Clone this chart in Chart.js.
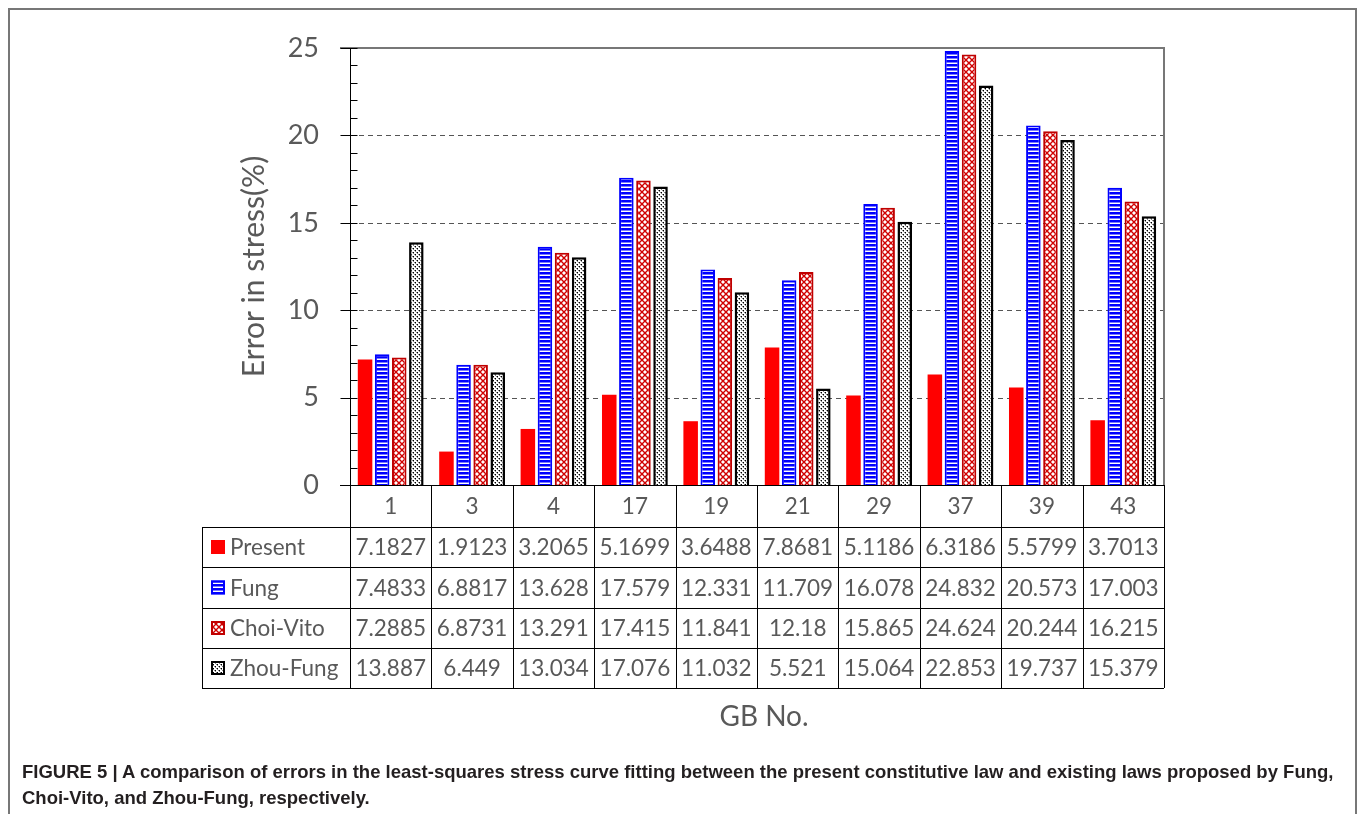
<!DOCTYPE html>
<html>
<head>
<meta charset="utf-8">
<script src="https://cdn.jsdelivr.net/npm/chart.js@4"></script>
<style>
  body { margin: 0; background: #fff; }
  #wrap { position: relative; width: 1357px; height: 814px; overflow: hidden; }
  #chart { position: absolute; left: 0; top: 0; }
  #frame { position: absolute; left: 8px; top: 8px; width: 1345px; height: 820px;
           border: 2px solid #777; border-bottom: none; pointer-events: none; }
  #caption { position: absolute; left: 22px; top: 759px; width: 1330px;
             font: bold 18.5px "Liberation Sans", Arial, sans-serif; line-height: 26px; color: #231f20; }
</style>
</head>
<body>
<div id="wrap">
  <canvas id="chart" width="1357" height="814"></canvas>
  <div id="frame"></div>
  <div id="caption">FIGURE 5 | A comparison of errors in the least-squares stress curve fitting between the present constitutive law and existing laws proposed by Fung,<br>Choi-Vito, and Zhou-Fung, respectively.</div>
</div>
<script>
// data
const categories = ["1", "3", "4", "17", "19", "21", "29", "37", "39", "43"];
const present = [7.1827, 1.9123, 3.2065, 5.1699, 3.6488, 7.8681, 5.1186, 6.3186, 5.5799, 3.7013];
const fung = [7.4833, 6.8817, 13.628, 17.579, 12.331, 11.709, 16.078, 24.832, 20.573, 17.003];
const choiVito = [7.2885, 6.8731, 13.291, 17.415, 11.841, 12.18, 15.865, 24.624, 20.244, 16.215];
const zhouFung = [13.887, 6.449, 13.034, 17.076, 11.032, 5.521, 15.064, 22.853, 19.737, 15.379];
const yTicks = [0, 5, 10, 15, 20, 25];

const FONT = "Lato, 'Open Sans', sans-serif";
const GREY = "#595959";

// fill patterns
function makePattern(size, draw) {
  const c = document.createElement("canvas");
  c.width = size[0];
  c.height = size[1];
  const g = c.getContext("2d");
  g.fillStyle = "#fff";
  g.fillRect(0, 0, c.width, c.height);
  draw(g);
  return document.getElementById("chart").getContext("2d").createPattern(c, "repeat");
}

const fungPattern = makePattern([4, 4], (g) => {
  g.fillStyle = "#0000ff";
  g.fillRect(0, 0, 4, 2);
  g.fillStyle = "#7a7aff";
  g.fillRect(0, 2, 4, 1);
});

const choiPattern = makePattern([6, 6], (g) => {
  g.strokeStyle = "#d00000";
  g.lineWidth = 1.4;
  g.beginPath();
  g.moveTo(-1, -1); g.lineTo(7, 7);
  g.moveTo(7, -1); g.lineTo(-1, 7);
  g.stroke();
});

const zhouPattern = makePattern([4, 4], (g) => {
  g.fillStyle = "#000";
  g.fillRect(1, 0, 1, 1);
  g.fillRect(3, 2, 1, 1);
  g.fillStyle = "#888";
  g.fillRect(1, 1, 1, 1);
  g.fillRect(3, 3, 1, 1);
  g.fillRect(0, 0, 1, 1);
  g.fillRect(2, 2, 1, 1);
});

const series = [
  { label: "Present", data: present, fill: "#ff0000", border: "#ff0000", bw: 0 },
  { label: "Fung", data: fung, fill: fungPattern, border: "#0000ff", bw: 2 },
  { label: "Choi-Vito", data: choiVito, fill: choiPattern, border: "#c00000", bw: 2 },
  { label: "Zhou-Fung", data: zhouFung, fill: zhouPattern, border: "#000000", bw: 2.5 },
];

// gridlines, ticks and frame of the plot
const plotFrame = {
  id: "plotFrame",
  beforeDatasetsDraw(chart) {
    const { ctx, chartArea: a, scales: { y } } = chart;
    ctx.save();
    ctx.strokeStyle = "#555";
    ctx.lineWidth = 1;
    ctx.setLineDash([5, 4]);
    [5, 10, 15, 20].forEach((v) => {
      const py = Math.round(y.getPixelForValue(v)) + 0.5;
      ctx.beginPath();
      ctx.moveTo(a.left, py);
      ctx.lineTo(a.right, py);
      ctx.stroke();
    });
    ctx.setLineDash([]);
    ctx.strokeStyle = "#777";
    ctx.lineWidth = 2;
    ctx.beginPath();
    ctx.moveTo(a.left - 10, a.top);
    ctx.lineTo(a.right, a.top);
    ctx.lineTo(a.right, a.bottom);
    ctx.stroke();
    ctx.restore();
  },
  afterDatasetsDraw(chart) {
    const { ctx, chartArea: a, scales: { x, y } } = chart;
    ctx.save();
    ctx.strokeStyle = "#000";
    ctx.lineWidth = 1;
    const ax = Math.round(a.left) + 0.5;
    ctx.beginPath();
    ctx.moveTo(ax, a.top);
    ctx.lineTo(ax, a.bottom);
    for (let v = 0; v <= 25; v++) {
      const py = Math.round(y.getPixelForValue(v)) + 0.5;
      ctx.moveTo(v % 5 === 0 ? ax - 10 : ax, py);
      ctx.lineTo(ax + 7, py);
    }
    ctx.stroke();

    // data table under the axis
    const rowTops = [a.bottom, a.bottom + 42, a.bottom + 82, a.bottom + 123, a.bottom + 163, a.bottom + 203];
    const tableLeft = 202;
    const step = (a.right - a.left) / categories.length;
    ctx.beginPath();
    rowTops.forEach((ty, i) => {
      const py = Math.round(ty) + 0.5;
      ctx.moveTo(i === 0 ? a.left - 10 : tableLeft, py);
      ctx.lineTo(a.right, py);
    });
    for (let i = 0; i <= categories.length; i++) {
      const px = Math.round(a.left + i * step) + 0.5;
      ctx.moveTo(px, rowTops[0]);
      ctx.lineTo(px, rowTops[5]);
    }
    ctx.moveTo(tableLeft + 0.5, rowTops[1]);
    ctx.lineTo(tableLeft + 0.5, rowTops[5]);
    ctx.stroke();

    ctx.fillStyle = GREY;
    ctx.font = "22.5px " + FONT;
    ctx.textAlign = "center";
    ctx.textBaseline = "middle";
    categories.forEach((c, i) => {
      ctx.fillText(c, x.getPixelForValue(i), (rowTops[0] + rowTops[1]) / 2 + 1);
    });
    series.forEach((s, r) => {
      const cy = (rowTops[r + 1] + rowTops[r + 2]) / 2 + 1;
      ctx.textAlign = "center";
      ctx.fillStyle = GREY;
      s.data.forEach((v, i) => {
        ctx.fillText(String(v), x.getPixelForValue(i), cy);
      });
      // legend key
      ctx.fillStyle = s.fill;
      ctx.fillRect(211, cy - 8, 14, 14);
      if (s.bw) {
        ctx.strokeStyle = s.border;
        ctx.lineWidth = 2;
        ctx.strokeRect(212, cy - 7, 12, 12);
      }
      ctx.textAlign = "left";
      ctx.fillStyle = GREY;
      ctx.fillText(s.label, 230, cy);
    });

    ctx.font = "28px " + FONT;
    ctx.textAlign = "center";
    ctx.fillText("GB No.", 764, 717);
    ctx.restore();
  },
};

new Chart(document.getElementById("chart"), {
  type: "bar",
  data: {
    labels: categories,
    datasets: series.map((s) => ({
      label: s.label,
      data: s.data,
      backgroundColor: s.fill,
      borderColor: s.border,
      borderWidth: s.bw,
      borderSkipped: "bottom",
      categoryPercentage: 0.84,
      barPercentage: 0.85,
    })),
  },
  options: {
    responsive: false,
    animation: false,
    layout: { padding: { left: 236, top: 48, right: 193, bottom: 329 } },
    plugins: {
      legend: { display: false },
      tooltip: { enabled: false },
    },
    scales: {
      x: { display: false },
      y: {
        min: 0,
        max: 25,
        afterBuildTicks: (s) => { s.ticks = yTicks.map((v) => ({ value: v })); },
        afterFit: (s) => { s.width = 114; },
        ticks: { padding: 23, color: GREY, font: { family: FONT, size: 27 } },
        grid: { display: false },
        border: { display: false },
        title: {
          display: true,
          text: "Error in stress(%)",
          color: GREY,
          font: { family: FONT, size: 30 },
          padding: 0,
        },
      },
    },
  },
  plugins: [plotFrame],
});
</script>
</body>
</html>
